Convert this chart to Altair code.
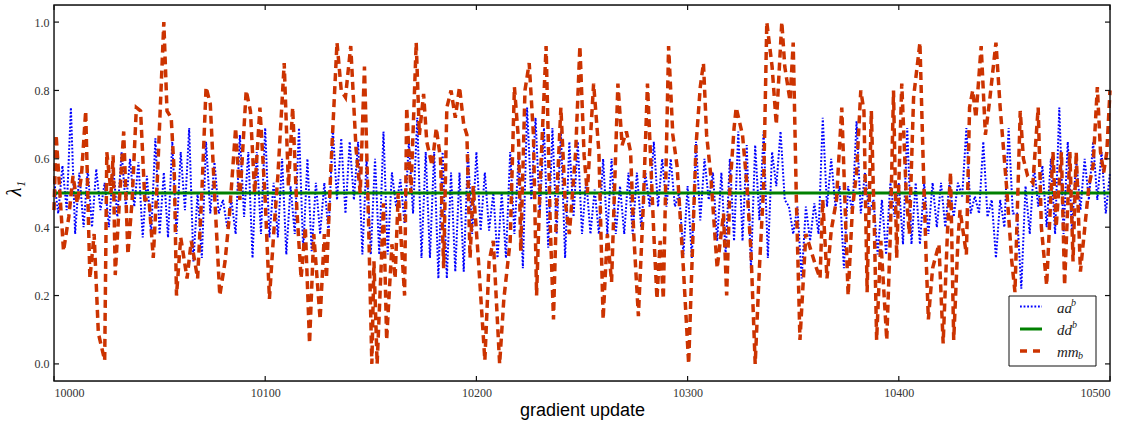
import altair as alt
import pandas as pd

# ---------------- data ----------------
x_ticks = [10000, 10100, 10200, 10300, 10400, 10500]
y_ticks = [0.0, 0.2, 0.4, 0.6, 0.8, 1.0]

# aa^b : blue dotted, sampled every 2 gradient updates (10000 .. 10500)
blue_values = [
    0.54, 0.44, 0.58, 0.45, 0.75, 0.38, 0.56, 0.40, 0.57, 0.40,
    0.57, 0.45, 0.53, 0.40, 0.58, 0.43, 0.62, 0.46, 0.60, 0.46,
    0.59, 0.37, 0.55, 0.38, 0.66, 0.38, 0.56, 0.37, 0.65, 0.38,
    0.62, 0.45, 0.69, 0.30, 0.50, 0.31, 0.65, 0.44, 0.59, 0.44,
    0.48, 0.40, 0.48, 0.38, 0.67, 0.43, 0.62, 0.31, 0.62, 0.38,
    0.69, 0.37, 0.53, 0.37, 0.60, 0.32, 0.52, 0.38, 0.69, 0.33,
    0.60, 0.33, 0.53, 0.38, 0.53, 0.38, 0.69, 0.48, 0.66, 0.44,
    0.65, 0.48, 0.65, 0.32, 0.60, 0.32, 0.60, 0.32, 0.68, 0.32,
    0.56, 0.46, 0.54, 0.41, 0.65, 0.44, 0.72, 0.31, 0.62, 0.31,
    0.62, 0.25, 0.62, 0.25, 0.56, 0.27, 0.56, 0.27, 0.62, 0.38,
    0.62, 0.39, 0.56, 0.39, 0.50, 0.31, 0.50, 0.31, 0.62, 0.38,
    0.61, 0.28, 0.75, 0.48, 0.72, 0.44, 0.69, 0.34, 0.69, 0.38,
    0.68, 0.31, 0.65, 0.43, 0.65, 0.38, 0.54, 0.38, 0.51, 0.38,
    0.60, 0.38, 0.60, 0.38, 0.52, 0.38, 0.56, 0.38, 0.56, 0.40,
    0.56, 0.46, 0.65, 0.46, 0.60, 0.46, 0.60, 0.46, 0.50, 0.32,
    0.52, 0.31, 0.65, 0.42, 0.60, 0.48, 0.56, 0.36, 0.56, 0.32,
    0.60, 0.36, 0.68, 0.36, 0.64, 0.28, 0.64, 0.42, 0.68, 0.31,
    0.62, 0.52, 0.68, 0.48, 0.46, 0.38, 0.46, 0.25, 0.46, 0.36,
    0.47, 0.38, 0.72, 0.46, 0.60, 0.46, 0.52, 0.28, 0.52, 0.44,
    0.71, 0.44, 0.56, 0.44, 0.48, 0.32, 0.48, 0.32, 0.53, 0.43,
    0.53, 0.35, 0.69, 0.35, 0.53, 0.35, 0.53, 0.38, 0.53, 0.40,
    0.53, 0.40, 0.53, 0.43, 0.53, 0.49, 0.69, 0.44, 0.49, 0.44,
    0.65, 0.43, 0.48, 0.31, 0.48, 0.40, 0.69, 0.44, 0.44, 0.22,
    0.52, 0.38, 0.58, 0.46, 0.58, 0.40, 0.60, 0.38, 0.75, 0.38,
    0.65, 0.39, 0.60, 0.45, 0.60, 0.48, 0.65, 0.48, 0.62, 0.44,
    0.56,
]
blue_steps = list(range(10000, 10501, 2))

# dd^b : green solid
green_steps = [10000, 10500]
green_values = [0.5, 0.5]

# mm_b : red dashed, turning points
red_offsets = [
    0, 1, 3, 4.5, 7, 9, 11, 13, 15, 17, 19, 21, 24, 25, 27, 28, 29, 31, 33, 35,
    37, 39, 41, 43, 45, 47, 49, 52, 53.5, 55.5, 57, 58, 60, 63, 65, 68, 70, 72, 74, 76,
    78.5, 81, 83, 86, 88, 91, 93, 95, 97.5, 100, 102, 104, 106, 109, 111, 113, 115, 117, 119, 121,
    123, 126, 128, 129, 131, 134, 136, 138, 140.5, 143, 145, 147, 149, 150.5, 151.5, 153, 155, 156, 157.5, 160,
    161.5, 163, 166, 167, 169, 171.5, 173, 175, 176.5, 179, 181, 183, 184.5, 186, 188, 190, 192, 194, 195.5, 197,
    198.5, 201, 204, 206, 208, 211, 213, 216, 218, 220, 221, 223, 225, 227, 228.5, 230, 233, 235, 236.5, 238,
    240, 242, 244, 247, 249, 251, 252.5, 255.5, 258, 260, 262, 264, 267, 269, 271, 273, 274.5, 276.7, 279, 281,
    284, 285.5, 287, 288.5, 291, 293, 295, 296, 298, 300.5, 302, 304, 306, 307.5, 309, 311, 314, 317, 318.5, 320,
    322, 323, 326, 328, 330, 332, 334, 336, 337.5, 340, 342, 344.6, 346, 348.5, 350, 351.5, 353.2, 356, 361, 362.7,
    364, 366, 368, 370.5, 373, 376, 378, 380, 382, 383.5, 385, 387, 388.5, 389.5, 391.5, 394.3, 396, 397.5, 399, 401.4,
    403.5, 405, 407, 410, 411.5, 413, 414, 416, 419, 421, 423, 424.5, 426, 428, 429, 432, 433.5, 435, 436.5, 439,
    441, 443, 446, 448, 451, 453.5, 455, 457.5, 459, 461, 463.5, 466, 467.5, 470, 473, 474.5, 477, 478.5, 481, 482.5,
    484, 486, 490, 492, 494, 495.5, 497, 498.5, 500,
]
red_values = [
    0.45, 0.67, 0.48, 0.33, 0.43, 0.55, 0.47, 0.55, 0.74, 0.25, 0.38, 0.09, 0.01, 0.62, 0.50, 0.61, 0.26, 0.48, 0.68, 0.32,
    0.48, 0.75, 0.74, 0.48, 0.48, 0.31, 0.55, 1.00, 0.74, 0.72, 0.55, 0.20, 0.37, 0.25, 0.36, 0.25, 0.50, 0.81, 0.76, 0.50,
    0.20, 0.30, 0.43, 0.69, 0.48, 0.80, 0.74, 0.50, 0.75, 0.48, 0.19, 0.38, 0.55, 0.88, 0.52, 0.75, 0.45, 0.25, 0.40, 0.06,
    0.38, 0.13, 0.38, 0.25, 0.56, 0.94, 0.80, 0.78, 0.93, 0.63, 0.50, 0.87, 0.40, 0.00, 0.30, 0.00, 0.30, 0.47, 0.07, 0.35,
    0.25, 0.50, 0.20, 0.75, 0.50, 0.94, 0.67, 0.79, 0.65, 0.58, 0.69, 0.60, 0.28, 0.75, 0.80, 0.72, 0.81, 0.70, 0.67, 0.31,
    0.52, 0.30, 0.01, 0.30, 0.36, 0.00, 0.19, 0.36, 0.81, 0.65, 0.33, 0.80, 0.88, 0.67, 0.20, 0.50, 0.93, 0.40, 0.13, 0.48,
    0.75, 0.48, 0.38, 0.62, 0.93, 0.61, 0.50, 0.82, 0.62, 0.13, 0.38, 0.24, 0.82, 0.64, 0.68, 0.62, 0.38, 0.14, 0.46, 0.82,
    0.38, 0.19, 0.36, 0.19, 0.93, 0.67, 0.58, 0.48, 0.28, 0.00, 0.28, 0.64, 0.81, 0.88, 0.67, 0.55, 0.28, 0.44, 0.20, 0.51,
    0.69, 0.75, 0.67, 0.53, 0.33, 0.00, 0.28, 0.52, 1.00, 0.87, 0.70, 1.00, 0.87, 0.77, 0.94, 0.48, 0.07, 0.38, 0.28, 0.25,
    0.48, 0.25, 0.39, 0.48, 0.75, 0.20, 0.45, 0.56, 0.80, 0.74, 0.21, 0.74, 0.38, 0.07, 0.36, 0.07, 0.38, 0.80, 0.31, 0.82,
    0.50, 0.38, 0.78, 0.94, 0.60, 0.30, 0.13, 0.28, 0.35, 0.06, 0.38, 0.56, 0.07, 0.36, 0.45, 0.32, 0.75, 0.80, 0.72, 0.93,
    0.67, 0.77, 0.94, 0.75, 0.52, 0.30, 0.21, 0.74, 0.60, 0.55, 0.53, 0.75, 0.40, 0.23, 0.62, 0.40, 0.62, 0.23, 0.62, 0.30,
    0.62, 0.27, 0.52, 0.58, 0.81, 0.62, 0.56, 0.62, 0.80,
]
red_steps = [10000 + o for o in red_offsets]

# ---------------- layout ----------------
W, H = 1056, 376
X_DOMAIN = [10000, 10500]
Y_DOMAIN = [-0.05, 1.05]
BLUE, GREEN, RED = "#0000ff", "#008000", "#cc3300"
SERIF = "Liberation Serif"

xs = alt.Scale(domain=X_DOMAIN, nice=False, zero=False)
ys = alt.Scale(domain=Y_DOMAIN, nice=False, zero=False)

blue_df = pd.DataFrame({"step": blue_steps, "value": blue_values})
green_df = pd.DataFrame({"step": green_steps, "value": green_values})
red_df = pd.DataFrame({"step": red_steps, "value": red_values})
xt_df = pd.DataFrame({"step": x_ticks})
yt_df = pd.DataFrame({"value": y_ticks})
one = pd.DataFrame({"a": [0]})

x_axis = alt.Axis(values=x_ticks, format="d", ticks=False, domain=False, grid=False,
                  labelFont=SERIF, labelFontSize=12, labelColor="#333", labelPadding=6,
                  title="gradient update", titleFont="Liberation Sans", titleFontSize=18,
                  titleFontWeight="normal", titleColor="#000", titlePadding=3)
y_axis = alt.Axis(values=y_ticks, format=".1f", ticks=False, domain=False, grid=False,
                  labelFont=SERIF, labelFontSize=12, labelColor="#333", labelPadding=5,
                  title="λ₁", titleFont=SERIF, titleFontSize=20, titleFontStyle="italic",
                  titleFontWeight="normal", titleColor="#000",
                  titleX=-40, titleY=183, titleAlign="center", titleBaseline="middle", titleAngle=270)

X = alt.X("step:Q", scale=xs, axis=x_axis)
Y = alt.Y("value:Q", scale=ys, axis=y_axis)

blue = alt.Chart(blue_df).mark_line(color=BLUE, strokeWidth=2, strokeDash=[1.8, 1.8]).encode(x=X, y=Y)
green = alt.Chart(green_df).mark_line(color=GREEN, strokeWidth=3).encode(x=X, y=Y)
red = alt.Chart(red_df).mark_line(color=RED, strokeWidth=3.5, strokeDash=[8, 5]).encode(x=X, y=Y)

TL = 5
tick_style = dict(color="#111", strokeWidth=1.2)
tb = alt.Chart(xt_df).mark_rule(**tick_style).encode(x=X, y=alt.value(H), y2=alt.value(H - TL))
tt = alt.Chart(xt_df).mark_rule(**tick_style).encode(x=X, y=alt.value(0), y2=alt.value(TL))
tl = alt.Chart(yt_df).mark_rule(**tick_style).encode(y=Y, x=alt.value(0), x2=alt.value(TL))
tr = alt.Chart(yt_df).mark_rule(**tick_style).encode(y=Y, x=alt.value(W), x2=alt.value(W - TL))

# plot frame
frame = alt.Chart(one).mark_rect(fillOpacity=0, stroke="#111", strokeWidth=1.4).encode(
    x=alt.value(0), x2=alt.value(W), y=alt.value(0), y2=alt.value(H))

# ---------------- legend (box, lower right) ----------------
LX0, LX1, LY0, LY1 = 955, 1042, 291, 361
rows = [301.5, 324, 346]
box = alt.Chart(one).mark_rect(fill="white", stroke="#111", strokeWidth=1).encode(
    x=alt.value(LX0), x2=alt.value(LX1), y=alt.value(LY0), y2=alt.value(LY1))
lb = alt.Chart(one).mark_rule(color=BLUE, strokeWidth=2, strokeDash=[1.8, 1.8]).encode(
    x=alt.value(966), x2=alt.value(988), y=alt.value(rows[0]))
lg = alt.Chart(one).mark_rule(color=GREEN, strokeWidth=3).encode(
    x=alt.value(966), x2=alt.value(988), y=alt.value(rows[1]))
lr = alt.Chart(one).mark_rule(color=RED, strokeWidth=3.5, strokeDash=[7, 6]).encode(
    x=alt.value(966), x2=alt.value(988), y=alt.value(rows[2]))

txt = dict(font=SERIF, fontStyle="italic", align="left", baseline="middle", color="#222")
t1 = alt.Chart(one).mark_text(text="aa", fontSize=15, **txt).encode(x=alt.value(1003), y=alt.value(rows[0] + 1))
t1s = alt.Chart(one).mark_text(text="b", fontSize=10, **txt).encode(x=alt.value(1017), y=alt.value(rows[0] - 4))
t2 = alt.Chart(one).mark_text(text="dd", fontSize=15, **txt).encode(x=alt.value(1003), y=alt.value(rows[1] + 1))
t2s = alt.Chart(one).mark_text(text="b", fontSize=10, **txt).encode(x=alt.value(1018), y=alt.value(rows[1] - 4))
t3 = alt.Chart(one).mark_text(text="mm", fontSize=15, **txt).encode(x=alt.value(1003), y=alt.value(rows[2] + 1))
t3s = alt.Chart(one).mark_text(text="b", fontSize=10, **txt).encode(x=alt.value(1024), y=alt.value(rows[2] + 5))

chart = alt.layer(
    blue, green, red, tb, tt, tl, tr, frame, box, lb, lg, lr, t1, t1s, t2, t2s, t3, t3s
).properties(
    width=W, height=H,
    autosize=alt.AutoSizeParams(type="none"),
    padding={"left": 54, "top": 5, "right": 20, "bottom": 42},
).configure_view(
    strokeWidth=0
).configure(background="white")

chart.save("out.html", embed_options={"renderer": "svg", "actions": False})
